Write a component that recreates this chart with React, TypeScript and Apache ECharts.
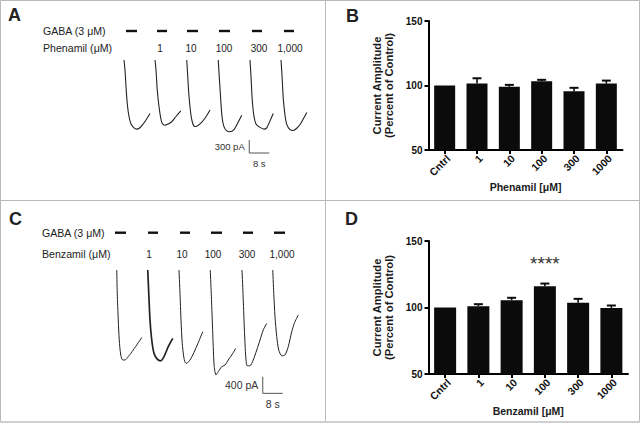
import { useEffect, useRef } from "react";
import * as echarts from "echarts";

const FONT = "'Liberation Sans', Arial, Helvetica, sans-serif";

// ---------- Panel A: phenamil traces (time s, current pA) ----------
const phenamilDoses = ["1", "10", "100", "300", "1,000"];
const phenamilDoseTimes = [20, 32.4, 45.6, 59.6, 72];
const phenamilDoseLevel = 276;
const gabaPulsesA = [[6.4, 10.8], [18.8, 22.8], [30.8, 35.2], [43.6, 48.0], [56.8, 60.8], [69.6, 73.6]];
const gabaLevelA = 667;
const phenamilTrace1 = [[5.6, 0], [6.0, -230], [6.4, -610], [6.9, -1000], [7.6, -1300], [8.4, -1470], [9.6, -1560], [10.7, -1590], [11.7, -1570], [12.9, -1500], [14.4, -1380], [16.0, -1230]];
const phenamilTrace2 = [[18.0, 0], [18.4, -230], [18.9, -690], [19.6, -1070], [20.3, -1340], [20.9, -1460], [22.0, -1500], [23.3, -1470], [24.7, -1420], [26.4, -1300], [28.3, -1170]];
const phenamilTrace3 = [[30.7, 0], [31.1, -380], [31.6, -840], [32.3, -1230], [32.9, -1420], [33.6, -1520], [34.4, -1530], [36.0, -1470], [38.0, -1340], [40.0, -1150]];
const phenamilTrace4 = [[43.3, 0], [43.7, -380], [44.3, -920], [44.8, -1300], [45.5, -1520], [46.7, -1630], [48.0, -1650], [49.6, -1600], [50.9, -1470], [52.7, -1270]];
const phenamilTrace5 = [[56.0, 0], [56.4, -380], [56.9, -920], [57.6, -1300], [58.4, -1470], [60.0, -1550], [61.6, -1590], [62.7, -1560], [64.0, -1400], [65.3, -1230]];
const phenamilTrace6 = [[68.4, 0], [68.8, -350], [69.3, -880], [70.0, -1270], [70.7, -1480], [72.0, -1600], [73.3, -1620], [74.7, -1570], [76.3, -1460], [78.7, -1210]];
const scaleBarA = [55.7, -2139, 8, 300];
const scaleLabelsA = ["300 pA", "8 s"];

// ---------- Panel C: benzamil traces ----------
const benzamilDoses = ["1", "10", "100", "300", "1,000"];
const benzamilDoseTimes = [15.6, 28.8, 41.2, 54.8, 68.8];
const benzamilDoseLevel = 384;
const gabaPulsesC = [[2.0, 6.4], [15.2, 19.2], [28.0, 32.0], [40.4, 44.8], [53.2, 57.2], [65.6, 70.0]];
const gabaLevelC = 895;
const benzamilTrace1 = [[2.7, 0], [2.9, -560], [3.3, -1200], [3.7, -1680], [4.3, -2040], [5.1, -2160], [6.0, -2160], [7.3, -2080], [9.3, -1920], [12.7, -1620]];
const benzamilTrace2 = [[15.1, 0], [15.5, -560], [16.0, -1200], [16.7, -1680], [17.6, -2000], [18.9, -2140], [20.3, -2180], [21.6, -2080], [23.3, -1840], [25.1, -1640]];
const benzamilTrace3 = [[27.6, 0], [28.0, -560], [28.4, -1200], [28.9, -1760], [29.6, -2120], [30.4, -2240], [31.5, -2200], [33.1, -2040], [34.9, -1800], [37.1, -1480]];
const benzamilTrace4 = [[40.1, 0], [40.5, -560], [40.9, -1200], [41.3, -1840], [41.7, -2320], [42.4, -2520], [43.3, -2440], [44.7, -2320], [46.0, -2280], [47.3, -2160], [48.7, -2040], [50.3, -1880]];
const benzamilTrace5 = [[52.8, 0], [53.2, -560], [53.6, -1200], [54.0, -1760], [54.4, -2160], [54.9, -2300], [56.0, -2300], [57.3, -2160], [58.7, -1920], [60.0, -1680], [61.3, -1440], [62.7, -1280]];
const benzamilTrace6 = [[65.1, 0], [65.5, -560], [66.0, -1120], [66.7, -1600], [67.5, -1920], [68.7, -2060], [70.0, -2040], [71.3, -1840], [72.7, -1480], [73.7, -1280], [75.3, -1080]];
const scaleBarC = [61.1, -2960, 8, 400];
const scaleLabelsC = ["400 pA", "8 s"];

// ---------- Panels B & D: bar charts ----------
const doseCategories = ["Cntrl", "1", "10", "100", "300", "1000"];
const phenamilMean = [100, 101.5, 99, 103.3, 95.6, 101.5];
const phenamilSem = [0, 4.1, 1.5, 1.1, 2.6, 2.3];
const benzamilMean = [100, 101, 105.5, 116, 103.5, 99.7];
const benzamilSem = [0, 1.5, 1.8, 2.0, 3.0, 1.8];
const benzamilSignif = [["100", 133, "****"]];

const TRACE_COLOR = "#222";

function traceSeries(traces: number[][][], idx: number, widths: number[]) {
  return traces.map((tr, i) => ({
    type: "line",
    xAxisIndex: idx,
    yAxisIndex: idx,
    data: tr,
    symbol: "none",
    showSymbol: false,
    smooth: 0.25,
    silent: true,
    lineStyle: { color: TRACE_COLOR, width: widths[i] },
    z: 3,
  }));
}

function pulseSeries(pulses: number[][], level: number, idx: number) {
  return {
    type: "custom",
    xAxisIndex: idx,
    yAxisIndex: idx,
    silent: true,
    data: pulses.map((p) => [p[0], level, p[1]]),
    renderItem: (_p: any, api: any) => {
      const a = api.coord([api.value(0), api.value(1)]);
      const b = api.coord([api.value(2), api.value(1)]);
      return {
        type: "line",
        shape: { x1: a[0], y1: a[1], x2: b[0], y2: b[1] },
        style: { stroke: "#111", lineWidth: 2.4 },
      };
    },
  };
}

function doseLabelSeries(times: number[], labels: string[], level: number, idx: number) {
  return {
    type: "custom",
    xAxisIndex: idx,
    yAxisIndex: idx,
    silent: true,
    data: times.map((t) => [t, level]),
    renderItem: (params: any, api: any) => {
      const p = api.coord([api.value(0), api.value(1)]);
      return {
        type: "text",
        x: p[0],
        y: p[1],
        style: {
          text: labels[params.dataIndex],
          fill: "#222",
          font: `10px ${FONT}`,
          align: "center",
          verticalAlign: "middle",
        },
      };
    },
  };
}

function scaleBarSeries(bar: number[], labels: string[], idx: number, fontSize: number) {
  return {
    type: "custom",
    xAxisIndex: idx,
    yAxisIndex: idx,
    silent: true,
    data: [bar],
    renderItem: (_p: any, api: any) => {
      const t = api.value(0), I = api.value(1), dt = api.value(2), dI = api.value(3);
      const o = api.coord([t, I]);
      const top = api.coord([t, I + dI]);
      const right = api.coord([t + dt, I]);
      return {
        type: "group",
        children: [
          {
            type: "polyline",
            shape: { points: [top, o, right] },
            style: { stroke: "#555", lineWidth: 1, fill: "none" },
          },
          {
            type: "text",
            x: o[0] - 4.5,
            y: (o[1] + top[1]) / 2,
            style: { text: labels[0], fill: "#333", font: `${fontSize}px ${FONT}`, align: "right", verticalAlign: "middle" },
          },
          {
            type: "text",
            x: (o[0] + right[0]) / 2,
            y: o[1] + 5,
            style: { text: labels[1], fill: "#333", font: `${fontSize}px ${FONT}`, align: "center", verticalAlign: "top" },
          },
        ],
      };
    },
  };
}

function barSeries(values: number[], idx: number, width: number) {
  return {
    type: "bar",
    xAxisIndex: idx,
    yAxisIndex: idx,
    data: values,
    barWidth: width,
    silent: true,
    itemStyle: { color: "#0b0b0b" },
    z: 2,
  };
}

function errorSeries(means: number[], sems: number[], idx: number) {
  return {
    type: "custom",
    xAxisIndex: idx,
    yAxisIndex: idx,
    silent: true,
    z: 4,
    data: means.map((m, i) => [i, m, sems[i]]),
    renderItem: (_p: any, api: any) => {
      const x = api.value(0), m = api.value(1), e = api.value(2);
      if (!e) return null;
      const p0 = api.coord([x, m]);
      const p1 = api.coord([x, m + e]);
      return {
        type: "group",
        children: [
          { type: "line", shape: { x1: p0[0], y1: p0[1], x2: p1[0], y2: p1[1] }, style: { stroke: "#0b0b0b", lineWidth: 1.6 } },
          { type: "line", shape: { x1: p1[0] - 4.5, y1: p1[1], x2: p1[0] + 4.5, y2: p1[1] }, style: { stroke: "#0b0b0b", lineWidth: 2 } },
        ],
      };
    },
  };
}

function signifSeries(items: any[], idx: number) {
  return {
    type: "custom",
    xAxisIndex: idx,
    yAxisIndex: idx,
    silent: true,
    data: items.map((it) => [doseCategories.indexOf(it[0]), it[1]]),
    renderItem: (params: any, api: any) => {
      const p = api.coord([api.value(0), api.value(1)]);
      return {
        type: "text",
        x: p[0],
        y: p[1],
        style: { text: items[params.dataIndex][2], fill: "#333", font: `19px ${FONT}`, align: "center", verticalAlign: "middle" },
      };
    },
  };
}

function barXAxis(idx: number, name: string, gap: number) {
  return {
    type: "category",
    gridIndex: idx,
    data: doseCategories,
    name,
    nameLocation: "middle",
    nameGap: gap,
    nameTextStyle: { fontFamily: FONT, fontWeight: "bold", fontSize: 10.5, color: "#1a1a1a" },
    axisLine: { show: true, onZero: false, lineStyle: { color: "#000", width: 2 } },
    axisTick: { show: true, alignWithLabel: true, length: 4, lineStyle: { color: "#000", width: 2 } },
    axisLabel: { rotate: 45, verticalAlign: "top", fontFamily: FONT, fontWeight: "bold", fontSize: 10.5, color: "#111", margin: 3 },
    splitLine: { show: false },
  };
}

function barYAxis(idx: number) {
  return {
    type: "value",
    gridIndex: idx,
    min: 50,
    max: 150,
    interval: 50,
    name: "Current Amplitude\n(Percent of Control)",
    nameLocation: "middle",
    nameRotate: 90,
    nameGap: 33.5,
    nameTextStyle: { fontFamily: FONT, fontWeight: "bold", fontSize: 11.2, color: "#1a1a1a", lineHeight: 11.7 },
    axisLine: { show: true, onZero: false, lineStyle: { color: "#000", width: 2 } },
    axisTick: { show: true, length: 4, lineStyle: { color: "#000", width: 2 } },
    axisLabel: { fontFamily: FONT, fontWeight: "bold", fontSize: 10, color: "#111", margin: 6 },
    splitLine: { show: false },
  };
}

function hiddenValueAxis(idx: number, min: number, max: number) {
  return { type: "value", gridIndex: idx, min, max, show: false, splitLine: { show: false } };
}

export default function App() {
  const ref = useRef<HTMLDivElement>(null);
  useEffect(() => {
    if (!ref.current) return;
    const chart = echarts.init(ref.current, undefined, { renderer: "svg", width: 640, height: 423 });
    const textStyle = (size: number, weight = "normal") => ({ fill: "#222", font: `${weight} ${size}px ${FONT}` });
    const option: any = {
      animation: false,
      backgroundColor: "#fff",
      grid: [
        { left: 110, top: 25, width: 210, height: 140 },
        { left: 428.5, top: 21, width: 194, height: 129 },
        { left: 110, top: 220, width: 210, height: 190 },
        { left: 428.5, top: 241, width: 199.5, height: 133 },
      ],
      xAxis: [
        hiddenValueAxis(0, 0, 84),
        barXAxis(1, "Phenamil [μM]", 27),
        hiddenValueAxis(2, 0, 84),
        barXAxis(3, "Benzamil [μM]", 31),
      ],
      yAxis: [
        hiddenValueAxis(0, -2415, 805),
        barYAxis(1),
        hiddenValueAxis(2, -3360, 1200),
        barYAxis(3),
      ],
      series: [
        ...traceSeries([phenamilTrace1, phenamilTrace2, phenamilTrace3, phenamilTrace4, phenamilTrace5, phenamilTrace6], 0, [1.1, 1.1, 1.1, 1.1, 1.1, 1.1]),
        pulseSeries(gabaPulsesA, gabaLevelA, 0),
        doseLabelSeries(phenamilDoseTimes, phenamilDoses, phenamilDoseLevel, 0),
        scaleBarSeries(scaleBarA, scaleLabelsA, 0, 9.5),
        barSeries(phenamilMean, 1, 21),
        errorSeries(phenamilMean, phenamilSem, 1),
        ...traceSeries([benzamilTrace1, benzamilTrace2, benzamilTrace3, benzamilTrace4, benzamilTrace5, benzamilTrace6], 2, [1.0, 1.7, 1.0, 1.0, 1.0, 1.0]),
        pulseSeries(gabaPulsesC, gabaLevelC, 2),
        doseLabelSeries(benzamilDoseTimes, benzamilDoses, benzamilDoseLevel, 2),
        scaleBarSeries(scaleBarC, scaleLabelsC, 2, 10.5),
        barSeries(benzamilMean, 3, 22),
        errorSeries(benzamilMean, benzamilSem, 3),
        signifSeries(benzamilSignif, 3),
      ],
      graphic: [
        { type: "rect", shape: { x: 0.5, y: 0.5, width: 639, height: 421 }, style: { fill: "none", stroke: "#b8b8b8", lineWidth: 1 }, silent: true },
        { type: "rect", shape: { x: 0, y: 421, width: 640, height: 2 }, style: { fill: "#cfcfcf" }, silent: true },
        { type: "line", shape: { x1: 0, y1: 200.5, x2: 640, y2: 200.5 }, style: { stroke: "#b8b8b8", lineWidth: 1 }, silent: true },
        { type: "line", shape: { x1: 325.5, y1: 0, x2: 325.5, y2: 421 }, style: { stroke: "#b8b8b8", lineWidth: 1 }, silent: true },
        { type: "text", x: 8, y: 15, style: { text: "A", ...textStyle(18, "bold"), align: "left", verticalAlign: "middle" } },
        { type: "text", x: 346, y: 15.5, style: { text: "B", ...textStyle(18, "bold"), align: "left", verticalAlign: "middle" } },
        { type: "text", x: 9, y: 219, style: { text: "C", ...textStyle(18, "bold"), align: "left", verticalAlign: "middle" } },
        { type: "text", x: 345, y: 219, style: { text: "D", ...textStyle(18, "bold"), align: "left", verticalAlign: "middle" } },
        { type: "text", x: 43, y: 31, style: { text: "GABA (3 μM)", ...textStyle(10.6), align: "left", verticalAlign: "middle" } },
        { type: "text", x: 43, y: 48, style: { text: "Phenamil (μM)", ...textStyle(10.6), align: "left", verticalAlign: "middle" } },
        { type: "text", x: 42, y: 232.7, style: { text: "GABA (3 μM)", ...textStyle(10.6), align: "left", verticalAlign: "middle" } },
        { type: "text", x: 42, y: 254, style: { text: "Benzamil (μM)", ...textStyle(10.6), align: "left", verticalAlign: "middle" } },
      ],
    };
    chart.setOption(option);
    return () => chart.dispose();
  }, []);
  return <div ref={ref} style={{ position: "absolute", left: 0, top: 0, width: 640, height: 423 }} />;
}
